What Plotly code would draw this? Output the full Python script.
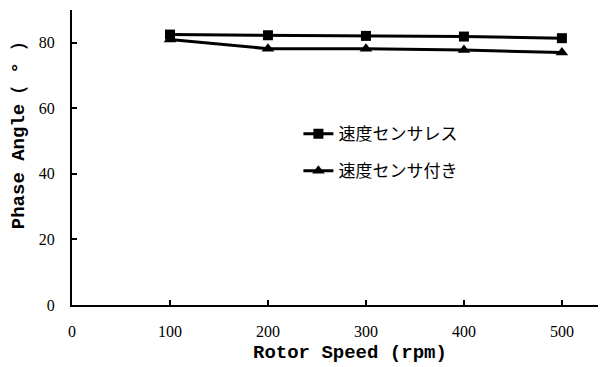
import plotly.graph_objects as go

speed = [100, 200, 300, 400, 500]
sensorless = [82.5, 82.3, 82.1, 81.9, 81.4]
with_sensor = [81.0, 78.2, 78.2, 77.8, 77.0]
names = ["速度センサレス", "速度センサ付き"]
x_ticks = [0, 100, 200, 300, 400, 500]
y_ticks = [0, 20, 40, 60, 80]

fig = go.Figure()
fig.add_trace(go.Scatter(x=speed, y=sensorless, name=names[0], mode="lines+markers",
                         line=dict(color="black", width=3),
                         marker=dict(symbol="square", size=10, color="black"),
                         legendgroup="a"))
fig.add_trace(go.Scatter(x=speed, y=with_sensor, name=names[1], mode="lines+markers",
                         line=dict(color="black", width=3),
                         marker=dict(symbol="triangle-up", size=11, color="black"),
                         legendgroup="b"))

tick_font = dict(family="Liberation Serif", size=16, color="black")
title_font = dict(family="Liberation Mono", size=19, color="black", weight="bold")

fig.update_layout(
    width=598, height=359,
    margin=dict(l=64, r=0, t=2, b=62),
    paper_bgcolor="white", plot_bgcolor="white",
    showlegend=True,
    legend=dict(x=0.424, y=0.64, xanchor="left", yanchor="top",
                font=dict(family="Noto Sans CJK JP", size=17, color="black"),
                bgcolor="rgba(0,0,0,0)", tracegroupgap=12, itemwidth=30),
    xaxis=dict(range=[0, 545], tickvals=x_ticks, ticktext=[str(v) for v in x_ticks],
               showgrid=False, zeroline=False, showline=True, linecolor="black", linewidth=2,
               ticks="inside", ticklen=5, tickwidth=2, tickcolor="black",
               tickfont=tick_font, ticklabelstandoff=11),
    yaxis=dict(range=[0, 90], tickvals=y_ticks, ticktext=[str(v) for v in y_ticks],
               showgrid=False, zeroline=False, showline=True, linecolor="black", linewidth=2,
               ticks="inside", ticklen=5, tickwidth=2, tickcolor="black",
               tickfont=tick_font, ticklabelstandoff=12),
)
fig.add_annotation(text="Phase Angle（ ° ）", textangle=-90, xref="paper", yref="paper",
                   x=-0.099, y=0.593, xanchor="center", yanchor="middle", showarrow=False,
                   font=title_font)
fig.add_annotation(text="Rotor Speed (rpm)", xref="paper", yref="paper",
                   x=0.52, y=-0.163, xanchor="center", yanchor="middle", showarrow=False,
                   font=title_font)
fig.write_html("out.html")
